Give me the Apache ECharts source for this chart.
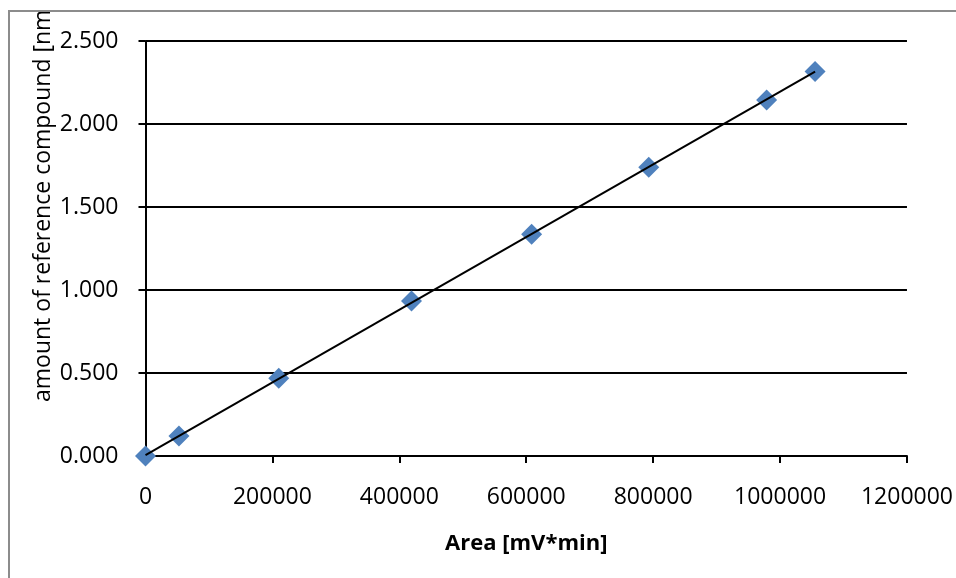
<!DOCTYPE html>
<html>
<head>
<meta charset="utf-8">
<script src="https://cdn.jsdelivr.net/npm/echarts@6/dist/echarts.min.js"></script>
<style>
  html, body { margin: 0; padding: 0; background: #fff; }
  #chart { width: 956px; height: 578px; }
</style>
</head>
<body>
<div id="chart"></div>
<script>
// Calibration points: peak area vs. amount of reference compound
const areas   = [0, 52700, 210000, 419200, 608500, 793100, 978800, 1055200];
const amounts = [0, 0.120, 0.468, 0.934, 1.336, 1.739, 2.145, 2.317];

const xTickValues = [0, 200000, 400000, 600000, 800000, 1000000, 1200000];
const yTickValues = [0, 0.5, 1.0, 1.5, 2.0, 2.5];

const xTitle = 'Area [mV*min]';
const yTitle = 'amount of reference compound [nmol]';

const FONT = '"Open Sans", "Liberation Sans", sans-serif';

// Least-squares linear fit drawn across the measured range
function linearFit(xs, ys) {
  const n = xs.length;
  let sx = 0, sy = 0, sxx = 0, sxy = 0;
  for (let i = 0; i < n; i++) {
    sx += xs[i]; sy += ys[i]; sxx += xs[i] * xs[i]; sxy += xs[i] * ys[i];
  }
  const slope = (n * sxy - sx * sy) / (n * sxx - sx * sx);
  const intercept = (sy - slope * sx) / n;
  return { slope, intercept };
}
const fit = linearFit(areas, amounts);
const xMin = Math.min(...areas), xMax = Math.max(...areas);
const trendData = [
  [xMin, fit.intercept + fit.slope * xMin],
  [xMax, fit.intercept + fit.slope * xMax]
];

const chart = echarts.init(document.getElementById('chart'), null, { renderer: 'canvas' });

chart.setOption({
  animation: false,
  backgroundColor: '#ffffff',
  grid: { left: 145.5, right: 48, top: 41, bottom: 122, containLabel: false },
  xAxis: {
    type: 'value',
    min: xTickValues[0],
    max: xTickValues[xTickValues.length - 1],
    interval: xTickValues[1] - xTickValues[0],
    name: xTitle,
    nameLocation: 'middle',
    nameGap: 77,
    nameTextStyle: { fontFamily: FONT, fontSize: 22, fontWeight: 'bold', color: '#000' },
    axisLine: { show: true, onZero: false, lineStyle: { color: '#000', width: 2 } },
    axisTick: { show: true, inside: false, length: 7, lineStyle: { color: '#000', width: 2 } },
    axisLabel: { fontFamily: FONT, fontSize: 23, color: '#000', margin: 30,
                 formatter: v => String(v) },
    splitLine: { show: false }
  },
  yAxis: {
    type: 'value',
    min: yTickValues[0],
    max: yTickValues[yTickValues.length - 1],
    interval: yTickValues[1] - yTickValues[0],
    axisLine: { show: true, onZero: false, lineStyle: { color: '#000', width: 2 } },
    axisTick: { show: true, inside: false, length: 7, lineStyle: { color: '#000', width: 2 } },
    axisLabel: { fontFamily: FONT, fontSize: 23, color: '#000', margin: 27,
                 padding: [4, 0, 0, 0],
                 formatter: v => v.toFixed(3) },
    splitLine: { show: true, lineStyle: { color: '#000', width: 2 } }
  },
  series: [
    {
      name: 'Calibration',
      type: 'scatter',
      data: areas.map((a, i) => [a, amounts[i]]),
      symbol: 'diamond',
      symbolSize: 21,
      itemStyle: { color: '#4F81BD', opacity: 1 },
      z: 2
    },
    {
      name: 'Linear fit',
      type: 'line',
      data: trendData,
      symbol: 'none',
      lineStyle: { color: '#000', width: 2 },
      silent: true,
      z: 3
    }
  ],
  graphic: [
    {
      type: 'text',
      rotation: Math.PI / 2,
      x: 55,
      y: 402,
      z: 10,
      style: {
        text: yTitle,
        fontFamily: FONT,
        fontSize: 23,
        fill: '#000',
        textAlign: 'left',
        textVerticalAlign: 'bottom'
      }
    },
    // chart-area frame: the title runs past its top edge and is cut there
    {
      type: 'rect', z: 20, silent: true,
      shape: { x: 0, y: 0, width: 956, height: 12 },
      style: { fill: '#ffffff' }
    },
    {
      type: 'line', z: 21, silent: true,
      shape: { x1: 8, y1: 11, x2: 956, y2: 11 },
      style: { stroke: '#8c8c8c', lineWidth: 2 }
    },
    {
      type: 'line', z: 21, silent: true,
      shape: { x1: 9, y1: 10, x2: 9, y2: 578 },
      style: { stroke: '#8c8c8c', lineWidth: 2 }
    }
  ]
});
</script>
</body>
</html>
